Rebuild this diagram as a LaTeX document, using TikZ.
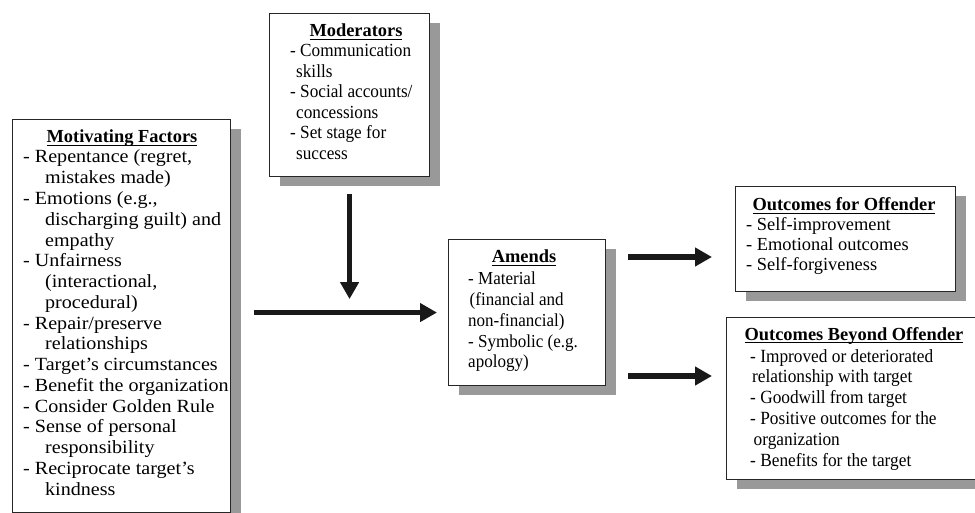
\documentclass[tikz,border=0pt]{standalone}
\usepackage{fontspec}
\setmainfont{Liberation Serif}
\newfontfamily\widefont[FakeStretch=1.08]{Liberation Serif}
\newfontfamily\narrowfont[FakeStretch=0.93]{Liberation Serif}
\usetikzlibrary{arrows.meta,shadows}
\newcommand\uttl[1]{\setbox0\hbox{#1}\rlap{\rule[-3.2pt]{\wd0}{1.4pt}}\box0}
\begin{document}
\begin{tikzpicture}[x=1pt,y=-1pt,
  box/.style={draw=black!85, line width=1.1pt, fill=white, inner sep=0pt, anchor=north west,
    drop shadow={shadow xshift=10pt, shadow yshift=-9.5pt, opacity=1, fill=black!40}},
  ttl/.style={anchor=base, inner sep=0pt, font=\fontsize{18.4}{22}\selectfont\bfseries},
  body/.style={anchor=base west, inner sep=0pt},
  bigarrow/.style={line width=5.8pt, draw=black!90, -{Triangle[length=17pt,width=18pt]}}]
\useasboundingbox (0,0) rectangle (975,513);

% boxes
\node[box, minimum width=218pt, minimum height=393pt] (mot) at (12,119) {};
\node[box, minimum width=160pt, minimum height=163pt] (mod) at (269,13) {};
\node[box, minimum width=157pt, minimum height=146pt] (am) at (448,239) {};
\node[box, minimum width=220pt, minimum height=105pt] (off) at (735,186) {};
\node[box, minimum width=252pt, minimum height=162pt] (bey) at (726,317) {};

% Motivating Factors
\node[ttl] (motT) at (122,143) {\uttl{Motivating Factors}};
\node[body] (motB) at (23,163) {\begin{minipage}[t]{260pt}\widefont\fontsize{18.6}{20.76}\selectfont
- Repentance (regret,\\
\hspace*{22pt}mistakes made)\\
- Emotions (e.g.,\\
\hspace*{22pt}discharging guilt) and\\
\hspace*{22pt}empathy\\
- Unfairness\\
\hspace*{22pt}(interactional,\\
\hspace*{22pt}procedural)\\
- Repair/preserve\\
\hspace*{22pt}relationships\\
- Target’s circumstances\\
- Benefit the organization\\
- Consider Golden Rule\\
- Sense of personal\\
\hspace*{22pt}responsibility\\
- Reciprocate target’s\\
\hspace*{22pt}kindness
\end{minipage}};

% Moderators
\node[ttl] (modT) at (356,37) {\uttl{Moderators}};
\node[body] (modB) at (290,57) {\begin{minipage}[t]{200pt}\narrowfont\fontsize{18.5}{20.5}\selectfont
- Communication\\
\hspace*{6pt}skills\\
- Social accounts/\\
\hspace*{6pt}concessions\\
- Set stage for\\
\hspace*{6pt}success
\end{minipage}};

% Amends
\node[ttl] (amT) at (524,263) {\uttl{Amends}};
\node[body] (amB) at (468,284) {\begin{minipage}[t]{200pt}\narrowfont\fontsize{18.3}{21}\selectfont
- Material\\
\hspace*{1.5pt}(financial and\\
non-financial)\\
- Symbolic (e.g.\\
apology)
\end{minipage}};

% Outcomes for Offender
\node[ttl] (offT) at (844,211) {\uttl{Outcomes for Offender}};
\node[body] (offB) at (746,231) {\begin{minipage}[t]{250pt}\fontsize{18.4}{20}\selectfont
- Self-improvement\\
- Emotional outcomes\\
- Self-forgiveness
\end{minipage}};

% Outcomes Beyond Offender
\node[ttl] (beyT) at (854,340) {\uttl{Outcomes Beyond Offender}};
\node[body] (beyB) at (750,362) {\begin{minipage}[t]{260pt}\narrowfont\fontsize{18.6}{20.9}\selectfont
- Improved or deteriorated\\
\hspace*{2pt}relationship with target\\
- Goodwill from target\\
- Positive outcomes for the\\
\hspace*{3.5pt}organization\\
- Benefits for the target
\end{minipage}};

% arrows
\draw[bigarrow] ([yshift=-17pt]mod.south) -- ++(0,105);
\draw[bigarrow] ([xshift=23pt]mot.east |- am.west) -- ([xshift=-11pt]am.west);
\draw[bigarrow] ([xshift=22pt]am.east |- 0,257) -- ([xshift=-23pt]off.west |- 0,257);
\draw[bigarrow] ([xshift=22pt]am.east |- 0,376) -- ([xshift=-14pt]bey.west |- 0,376);
\end{tikzpicture}
\end{document}
